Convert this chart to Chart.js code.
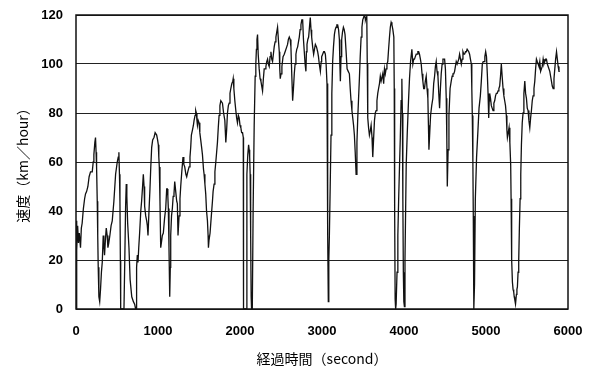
<!DOCTYPE html>
<html>
<head>
<meta charset="utf-8">
<script src="https://cdn.jsdelivr.net/npm/chart.js@4.4.1/dist/chart.umd.min.js"></script>
<style>
  html, body { margin: 0; padding: 0; background: #fff; }
  #wrap { width: 600px; height: 367px; }
</style>
</head>
<body>
<div id="wrap"><canvas id="speedChart"></canvas></div>
<script>
// elapsed time (s) and speed (km/h)
const timeSec = [
  0, 5, 12, 20, 30, 40, 55, 65, 75, 90, 105, 116, 130, 145, 160, 177, 198, 210, 218, 230,
  238, 245, 251, 259, 265, 271, 279, 289, 299, 310, 320, 332, 340, 348, 360, 369, 380, 389, 400, 413,
  428, 442, 462, 483, 503, 515, 523, 530, 536, 541, 545, 560, 585, 595, 605, 613, 620, 630, 646, 660,
  680, 700, 715, 727, 735, 739, 748, 756, 765, 776, 790, 800, 812, 821, 830, 837, 850, 862, 870, 878,
  890, 902, 912, 923, 935, 951, 965, 984, 995, 1004, 1010, 1016, 1024, 1033, 1041, 1053, 1065, 1080, 1094, 1106,
  1114, 1120, 1126, 1134, 1143, 1150, 1155, 1165, 1175, 1185, 1195, 1204, 1216, 1228, 1236, 1244, 1257, 1268, 1277, 1290,
  1305, 1315, 1326, 1340, 1350, 1363, 1379, 1390, 1399, 1407, 1420, 1432, 1440, 1452, 1460, 1468, 1475, 1481, 1490, 1501,
  1510, 1521, 1532, 1542, 1555, 1562, 1572, 1582, 1592, 1603, 1611, 1615, 1622, 1635, 1648, 1664, 1672, 1684, 1694, 1705,
  1715, 1725, 1735, 1745, 1755, 1766, 1786, 1800, 1815, 1827, 1837, 1847, 1858, 1868, 1878, 1888, 1900, 1912, 1917, 1925,
  1937, 1949, 1959, 1969, 1980, 1990, 2000, 2010, 2020, 2031, 2040, 2043, 2060, 2075, 2084, 2095, 2105, 2112, 2118, 2124,
  2130, 2136, 2141, 2150, 2160, 2173, 2185, 2193, 2200, 2207, 2214, 2222, 2234, 2245, 2255, 2265, 2275, 2285, 2295, 2305,
  2316, 2326, 2336, 2346, 2356, 2367, 2377, 2387, 2397, 2407, 2417, 2428, 2438, 2448, 2458, 2468, 2479, 2485, 2491, 2500,
  2511, 2525, 2540, 2550, 2560, 2570, 2580, 2590, 2601, 2612, 2621, 2632, 2642, 2652, 2662, 2672, 2682, 2692, 2703, 2713,
  2723, 2733, 2743, 2754, 2764, 2774, 2784, 2794, 2804, 2810, 2817, 2827, 2837, 2847, 2857, 2866, 2874, 2886, 2898, 2908,
  2919, 2933, 2947, 2957, 2967, 2980, 2990, 2996, 3008, 3020, 3030, 3041, 3050, 3061, 3066, 3069, 3073, 3077, 3083, 3090,
  3100, 3110, 3120, 3130, 3140, 3151, 3161, 3171, 3181, 3191, 3202, 3212, 3218, 3224, 3232, 3240, 3250, 3261, 3271, 3281,
  3294, 3306, 3320, 3334, 3344, 3354, 3365, 3375, 3385, 3395, 3405, 3416, 3426, 3436, 3446, 3456, 3466, 3477, 3487, 3497,
  3507, 3517, 3525, 3530, 3538, 3546, 3552, 3558, 3568, 3578, 3590, 3599, 3610, 3619, 3630, 3640, 3650, 3660, 3670, 3680,
  3690, 3701, 3711, 3721, 3741, 3752, 3762, 3772, 3782, 3792, 3802, 3812, 3823, 3833, 3843, 3853, 3864, 3876, 3881, 3884,
  3888, 3892, 3898, 3904, 3915, 3925, 3935, 3945, 3955, 3965, 3974, 3980, 3986, 3992, 3998, 4005, 4012, 4027, 4040, 4055,
  4067, 4080, 4096, 4108, 4118, 4128, 4138, 4149, 4159, 4169, 4179, 4189, 4200, 4210, 4220, 4230, 4240, 4250, 4260, 4271,
  4281, 4291, 4298, 4304, 4314, 4324, 4338, 4352, 4362, 4373, 4383, 4393, 4403, 4414, 4424, 4434, 4444, 4454, 4465, 4475,
  4485, 4495, 4505, 4515, 4522, 4528, 4538, 4548, 4562, 4576, 4587, 4597, 4607, 4617, 4627, 4637, 4648, 4658, 4668, 4678,
  4689, 4699, 4709, 4719, 4729, 4739, 4750, 4760, 4770, 4780, 4790, 4800, 4810, 4821, 4827, 4833, 4840, 4845, 4850, 4853,
  4860, 4870, 4885, 4902, 4915, 4931, 4943, 4955, 4966, 4976, 4986, 4996, 5006, 5016, 5025, 5033, 5039, 5045, 5055, 5065,
  5075, 5086, 5096, 5106, 5116, 5126, 5136, 5147, 5157, 5167, 5177, 5187, 5197, 5208, 5218, 5228, 5238, 5248, 5255, 5261,
  5271, 5281, 5291, 5301, 5306, 5310, 5316, 5322, 5330, 5338, 5344, 5350, 5360, 5371, 5377, 5383, 5391, 5399, 5407, 5416,
  5424, 5432, 5442, 5452, 5462, 5473, 5483, 5493, 5503, 5513, 5523, 5534, 5544, 5554, 5564, 5574, 5585, 5595, 5605, 5615,
  5625, 5636, 5646, 5656, 5666, 5676, 5686, 5697, 5707, 5717, 5727, 5737, 5748, 5758, 5768, 5778, 5788, 5798, 5808, 5819,
  5829, 5839, 5849, 5860, 5870, 5880, 5890, 5900
];
const speedKmh = [
  0, 36, 24, 34, 27, 31, 25, 33, 35, 41, 45, 47, 48, 50, 54, 56, 56, 60, 63, 68,
  70, 64, 58, 44, 30, 17, 5, 3, 8, 15, 19, 30, 26, 22, 29, 33, 30, 25, 27, 30,
  34, 36, 44, 55, 60, 62, 64, 55, 44, 20, 0, 0, 0, 20, 42, 51, 46, 35, 25, 12,
  5, 3, 2, 0, 0, 17, 22, 19, 25, 31, 40, 44, 50, 55, 50, 42, 38, 36, 34, 30,
  40, 49, 58, 66, 69, 70, 72, 71, 69, 67, 62, 58, 44, 25, 27, 30, 31, 37, 41, 49,
  49, 46, 41, 25, 5, 17, 30, 38, 41, 46, 47, 52, 48, 44, 43, 30, 38, 45, 50, 56,
  62, 59, 58, 55, 54, 56, 58, 62, 66, 71, 73, 75, 77, 79, 81, 80, 77, 75, 77, 76,
  72, 69, 66, 63, 57, 55, 51, 47, 40, 36, 30, 25, 28, 31, 37, 44, 48, 51, 56, 60,
  64, 68, 74, 79, 83, 85, 84, 80, 77, 68, 73, 80, 83, 84, 88, 90, 92, 93, 94, 90,
  85, 81, 78, 76, 79, 78, 75, 74, 72, 72, 70, 0, 0, 0, 55, 63, 67, 65, 62, 55,
  30, 5, 0, 0, 40, 75, 95, 100, 106, 110, 112, 104, 98, 94, 93, 91, 89, 94, 98, 98,
  99, 101, 102, 100, 99, 103, 105, 102, 101, 104, 107, 109, 111, 113, 115, 110, 105, 98, 94, 96,
  99, 103, 104, 105, 105, 107, 108, 110, 111, 110, 107, 95, 85, 90, 96, 100, 104, 106, 107, 109,
  111, 114, 116, 118, 118, 110, 105, 100, 97, 105, 108, 110, 111, 115, 119, 114, 111, 107, 104, 106,
  108, 107, 105, 103, 100, 97, 101, 103, 104, 105, 105, 104, 100, 92, 75, 58, 30, 3, 20, 30,
  50, 71, 88, 101, 107, 112, 114, 115, 116, 116, 114, 110, 100, 93, 103, 110, 113, 115, 114, 112,
  105, 98, 97, 96, 90, 85, 81, 78, 75, 71, 64, 55, 68, 78, 86, 94, 103, 111, 115, 118,
  119, 120, 119, 118, 119, 120, 100, 78, 74, 71, 73, 75, 70, 62, 70, 77, 80, 81, 85, 88,
  90, 92, 95, 93, 96, 92, 98, 96, 98, 100, 101, 106, 111, 115, 117, 116, 114, 111, 90, 72,
  40, 4, 0, 2, 15, 30, 45, 58, 70, 85, 94, 80, 45, 15, 3, 1, 20, 59, 72, 85,
  94, 101, 106, 100, 102, 102, 103, 104, 104, 105, 105, 104, 102, 100, 96, 93, 90, 90, 93, 95,
  90, 86, 75, 65, 72, 79, 83, 86, 92, 95, 99, 101, 97, 95, 88, 82, 90, 96, 100, 102,
  102, 102, 98, 86, 70, 50, 65, 79, 90, 93, 95, 96, 96, 97, 99, 101, 100, 100, 102, 104,
  102, 100, 102, 105, 104, 104, 105, 105, 106, 106, 105, 104, 102, 100, 90, 79, 60, 38, 15, 0,
  10, 45, 62, 73, 82, 87, 93, 100, 101, 101, 103, 105, 103, 96, 88, 78, 85, 88, 86, 83,
  82, 81, 84, 85, 87, 88, 88, 89, 90, 91, 95, 100, 95, 90, 87, 85, 83, 79, 73, 70,
  72, 74, 68, 59, 45, 31, 20, 11, 8, 7, 5, 4, 2, 6, 8, 9, 15, 20, 33, 45,
  55, 67, 76, 80, 88, 93, 88, 86, 82, 81, 77, 74, 78, 81, 85, 87, 90, 93, 98, 102,
  101, 100, 99, 101, 97, 98, 99, 102, 100, 101, 102, 102, 100, 99, 99, 97, 95, 93, 91, 90,
  94, 98, 102, 105, 102, 99, 97, 97
];
const xTicks = [0, 1000, 2000, 3000, 4000, 5000, 6000];
const yTicks = [0, 20, 40, 60, 80, 100, 120];

const points = timeSec.map((t, i) => ({ x: t, y: speedKmh[i] }));

// plot frame on all four sides
const frame = {
  id: 'frame',
  afterDraw(chart) {
    const a = chart.chartArea, c = chart.ctx;
    c.save();
    c.strokeStyle = '#111';
    c.lineWidth = 1.5;
    c.strokeRect(a.left, a.top, a.right - a.left, a.bottom - a.top);
    c.restore();
  }
};

const tickFont = { family: 'Liberation Sans, Arial, sans-serif', size: 13, weight: 'bold' };
const titleFont = { family: 'Noto Sans CJK JP, sans-serif', size: 14 };

new Chart(document.getElementById('speedChart'), {
  type: 'line',
  data: {
    datasets: [{
      data: points,
      borderColor: '#111',
      borderWidth: 1.3,
      pointRadius: 0,
      tension: 0,
      fill: false
    }]
  },
  options: {
    responsive: true,
    maintainAspectRatio: false,
    animation: false,
    layout: { padding: { top: 15, right: 32, left: 14, bottom: 0 } },
    plugins: { legend: { display: false }, tooltip: { enabled: false } },
    scales: {
      x: {
        type: 'linear',
        min: 0, max: 6000,
        afterBuildTicks: s => { s.ticks = xTicks.map(v => ({ value: v })); },
        afterFit: s => { s.height = 58; s.paddingLeft = 0; s.paddingRight = 0; },
        grid: { display: false, drawTicks: false },
        border: { display: false },
        ticks: { color: '#000', font: tickFont, padding: 15, maxRotation: 0, callback: v => String(v) },
        title: {
          display: true, text: '経過時間（second）', color: '#000',
          font: titleFont, padding: { top: 1, bottom: 0 }
        }
      },
      y: {
        min: 0, max: 120,
        afterBuildTicks: s => { s.ticks = yTicks.map(v => ({ value: v })); },
        afterFit: s => { s.width = 62; s.paddingTop = 0; s.paddingBottom = 0; },
        grid: { color: '#222', lineWidth: 1, drawTicks: false },
        border: { display: false },
        ticks: { color: '#000', font: tickFont, padding: 13, callback: v => String(v) },
        title: {
          display: true, text: '速度（km／hour）', color: '#000',
          font: titleFont, padding: { top: 0, bottom: 0 }
        }
      }
    }
  },
  plugins: [frame]
});
</script>
</body>
</html>
